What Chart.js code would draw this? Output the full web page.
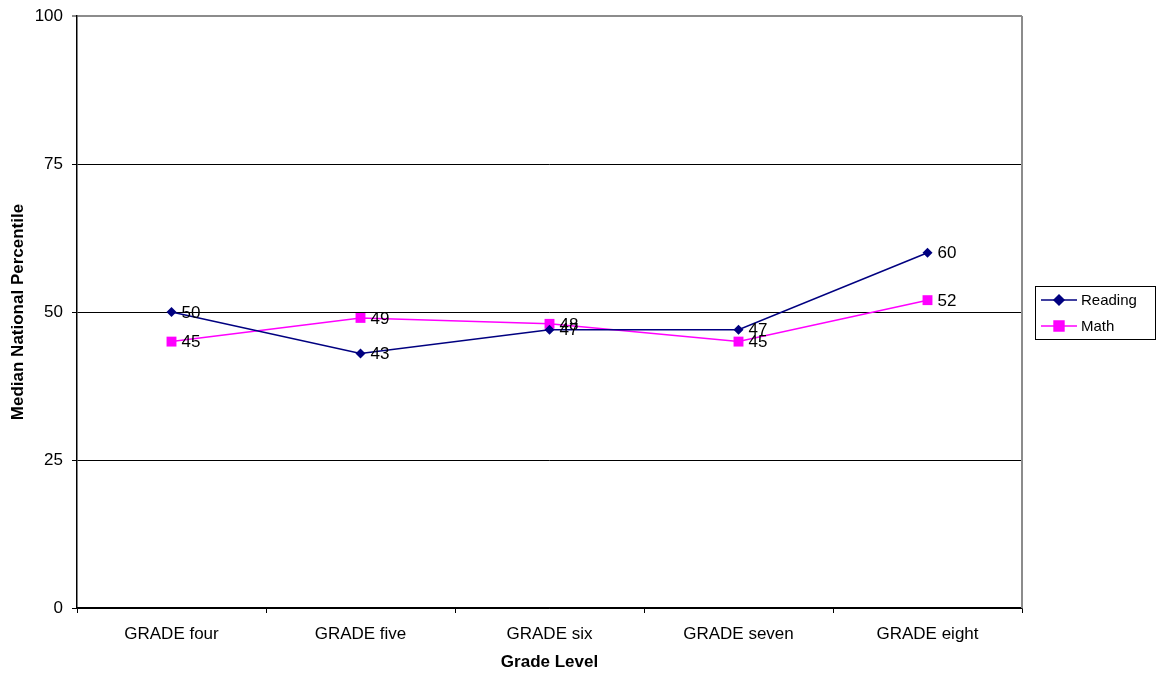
<!DOCTYPE html>
<html>
<head>
<meta charset="utf-8">
<script src="https://cdn.jsdelivr.net/npm/chart.js@4"></script>
<style>
  html, body { margin: 0; padding: 0; background: #fff; }
  #wrap { width: 1157px; height: 673px; }
</style>
</head>
<body>
<div id="wrap"><canvas id="grade-chart" width="1157" height="673"></canvas></div>
<script>
const categories = ['GRADE four', 'GRADE five', 'GRADE six', 'GRADE seven', 'GRADE eight'];
const readingValues = [50, 43, 47, 47, 60];
const mathValues = [45, 49, 48, 45, 52];
const yTicks = [0, 25, 50, 75, 100];

const FONT = '"Liberation Sans", Arial, sans-serif';

// labels next to each point, like the spreadsheet original
const pointLabels = {
    id: 'pointLabels',
    afterDatasetsDraw(chart) {
        const ctx = chart.ctx;
        ctx.save();
        ctx.font = '17px ' + FONT;
        ctx.fillStyle = '#000';
        ctx.textAlign = 'left';
        ctx.textBaseline = 'middle';
        chart.data.datasets.forEach((ds, i) => {
            chart.getDatasetMeta(i).data.forEach((pt, j) => {
                ctx.fillText(String(ds.data[j]), pt.x + 10, pt.y + 1);
            });
        });
        ctx.restore();
    }
};

// grey right border + boxed legend on the right
const frameAndLegend = {
    id: 'frameAndLegend',
    afterDraw(chart) {
        const ctx = chart.ctx;
        const a = chart.chartArea;
        ctx.save();
        ctx.strokeStyle = '#8c8c8c';
        ctx.lineWidth = 2;
        ctx.beginPath();
        ctx.moveTo(a.right, a.top);
        ctx.lineTo(a.right, a.bottom);
        ctx.stroke();

        // legend box
        ctx.strokeStyle = '#000';
        ctx.lineWidth = 1;
        ctx.strokeRect(1035.5, 286.5, 120, 53);
        ctx.font = '15px ' + FONT;
        ctx.textBaseline = 'middle';
        ctx.textAlign = 'left';
        chart.data.datasets.forEach((ds, i) => {
            const y = 300 + i * 26;
            ctx.strokeStyle = ds.borderColor;
            ctx.lineWidth = 1.5;
            ctx.beginPath();
            ctx.moveTo(1041, y);
            ctx.lineTo(1077, y);
            ctx.stroke();
            Chart.helpers.drawPoint(ctx, {
                pointStyle: ds.pointStyle,
                radius: ds.pointRadius,
                rotation: 0,
                borderWidth: 1
            }, 1059, y);
            ctx.fillStyle = ds.backgroundColor;
            ctx.fill();
            ctx.fillStyle = '#000';
            ctx.fillText(ds.label, 1081, y + 1);
        });
        ctx.restore();
    }
};

const ctx = document.getElementById('grade-chart').getContext('2d');

const gradeChart = new Chart(ctx, {
    type: 'line',
    data: {
        labels: categories,
        datasets: [{
            label: 'Reading',
            data: readingValues,
            borderColor: '#000080',
            backgroundColor: '#000080',
            borderWidth: 1.5,
            pointStyle: 'rectRot',
            pointRadius: 5,
            pointBorderWidth: 0,
            tension: 0
        }, {
            label: 'Math',
            data: mathValues,
            borderColor: '#ff00ff',
            backgroundColor: '#ff00ff',
            borderWidth: 1.5,
            pointStyle: 'rect',
            pointRadius: 7,
            pointBorderWidth: 0,
            tension: 0
        }]
    },
    options: {
        responsive: false,
        animation: false,
        layout: {
            padding: { left: 8, right: 135, top: 16, bottom: 0 }
        },
        scales: {
            x: {
                offset: true,
                grid: {
                    offset: true,
                    drawOnChartArea: false,
                    color: '#000',
                    tickLength: 5
                },
                border: { color: '#000', width: 1.5 },
                ticks: {
                    color: '#000',
                    font: { family: FONT, size: 17 },
                    padding: 11,
                    maxRotation: 0
                },
                title: {
                    display: true,
                    text: 'Grade Level',
                    color: '#000',
                    font: { family: FONT, size: 17, weight: 'bold' },
                    padding: { top: 8, bottom: 0 }
                },
                afterFit(scale) { scale.height = 65; }
            },
            y: {
                min: 0,
                max: 100,
                afterBuildTicks(scale) {
                    scale.ticks = yTicks.map(v => ({ value: v }));
                },
                grid: {
                    color: ctx => ctx.tick && ctx.tick.value === 100 ? '#8c8c8c' : '#000',
                    lineWidth: ctx => ctx.tick && ctx.tick.value === 100 ? 2 : 1,
                    tickLength: 5
                },
                border: { color: '#000', width: 1.5 },
                ticks: {
                    color: '#000',
                    font: { family: FONT, size: 17 },
                    padding: 9
                },
                title: {
                    display: true,
                    text: 'Median National Percentile',
                    color: '#000',
                    font: { family: FONT, size: 17, weight: 'bold' },
                    padding: { top: 0, bottom: 12 }
                },
                afterFit(scale) {
                    scale.width = 69;
                    scale.paddingTop = 0;
                    scale.paddingBottom = 0;
                }
            }
        },
        plugins: {
            legend: { display: false },
            tooltip: { enabled: false }
        }
    },
    plugins: [pointLabels, frameAndLegend]
});
</script>
</body>
</html>
